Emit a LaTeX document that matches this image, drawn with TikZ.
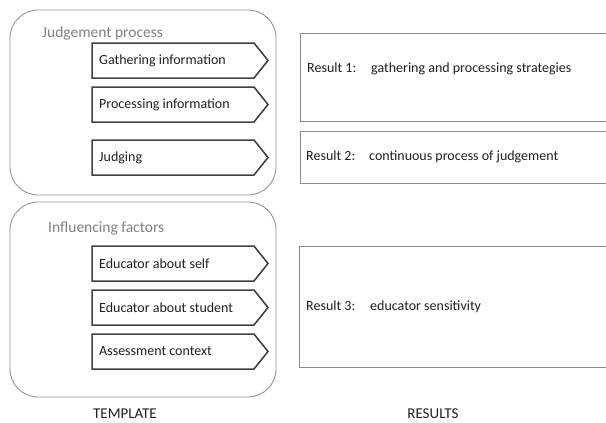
\documentclass[tikz,border=0pt]{standalone}
\usepackage{fontspec}
\setmainfont{Carlito}
\usetikzlibrary{calc,positioning}

\begin{document}
\begin{tikzpicture}[x=1pt, y=-1pt,
		groupbox/.style={line width=0.9pt, color=black!42, rounded corners=28pt},
		grouptitle/.style={anchor=west, inner sep=0pt, text=black!50, font=\fontsize{15.5}{18}\selectfont},
		stepbox/.style={inner sep=0pt, outer sep=0pt, minimum width=162pt, minimum height=35pt, anchor=north west},
		stepline/.style={line width=1.5pt, color=black!75, line join=miter},
		steplabel/.style={anchor=west, inner sep=0pt, text=black!88, font=\fontsize{14}{17}\selectfont},
		resbox/.style={draw=black!45, line width=1pt, inner sep=0pt, outer sep=0pt, minimum width=320pt, anchor=north west},
		reslabel/.style={anchor=west, inner sep=0pt, text=black!88, font=\fontsize{14}{17}\selectfont},
		footer/.style={inner sep=0pt, text=black!88, font=\fontsize{15}{18}\selectfont}]
			%%%%% START %%%%%
			
			\clip (0, 0) rectangle (606, 423);
			
			% template: judgement process
			\draw[groupbox] (10, 10) rectangle (276, 195);
			\node[grouptitle] (jtitle) at (42, 33) {Judgement process};
			
			\node[stepbox] (gath) at (92, 43) {};
			\draw[stepline] (gath.north west) -- (gath.north east) -- ($(gath.east)+(14, 0)$) -- (gath.south east) -- (gath.south west) -- cycle;
			\node[steplabel, right=7pt of gath.west] {Gathering information};
			
			\node[stepbox] (proc) at (92, 87) {};
			\draw[stepline] (proc.north west) -- (proc.north east) -- ($(proc.east)+(14, 0)$) -- (proc.south east) -- (proc.south west) -- cycle;
			\node[steplabel, right=7pt of proc.west] {Processing information};
			
			\node[stepbox] (judg) at (92, 140) {};
			\draw[stepline] (judg.north west) -- (judg.north east) -- ($(judg.east)+(14, 0)$) -- (judg.south east) -- (judg.south west) -- cycle;
			\node[steplabel, right=7pt of judg.west] {Judging};
			
			% template: influencing factors
			\draw[groupbox] (10, 202) rectangle (276, 397);
			\node[grouptitle] (ftitle) at (48, 228) {Influencing factors};
			
			\node[stepbox] (self) at (92, 246) {};
			\draw[stepline] (self.north west) -- (self.north east) -- ($(self.east)+(14, 0)$) -- (self.south east) -- (self.south west) -- cycle;
			\node[steplabel, right=7pt of self.west] {Educator about self};
			
			\node[stepbox] (stud) at (92, 290) {};
			\draw[stepline] (stud.north west) -- (stud.north east) -- ($(stud.east)+(14, 0)$) -- (stud.south east) -- (stud.south west) -- cycle;
			\node[steplabel, right=7pt of stud.west] {Educator about student};
			
			\node[stepbox] (ctx) at (92, 334) {};
			\draw[stepline] (ctx.north west) -- (ctx.north east) -- ($(ctx.east)+(14, 0)$) -- (ctx.south east) -- (ctx.south west) -- cycle;
			\node[steplabel, right=7pt of ctx.west] {Assessment context};
			
			% results
			\node[resbox, minimum height=88pt] (res1) at (300, 33) {};
			\node[reslabel] (res1txt) at (307, 69) {\makebox[64pt][l]{Result 1:}gathering and processing strategies};
			
			\node[resbox, minimum height=52pt] (res2) at (300, 131) {};
			\node[reslabel] (res2txt) at (306, 157) {\makebox[63pt][l]{Result 2:}continuous process of judgement};
			
			\node[resbox, minimum height=121pt] (res3) at (299, 246) {};
			\node[reslabel] (res3txt) at (306, 307) {\makebox[64pt][l]{Result 3:}educator sensitivity};
			
			% captions
			\node[footer] (tmpl) at (125, 414) {TEMPLATE};
			\node[footer] (rslt) at (433, 414) {RESULTS};
			
			%%%%% END %%%%%
\end{tikzpicture}
\end{document}
